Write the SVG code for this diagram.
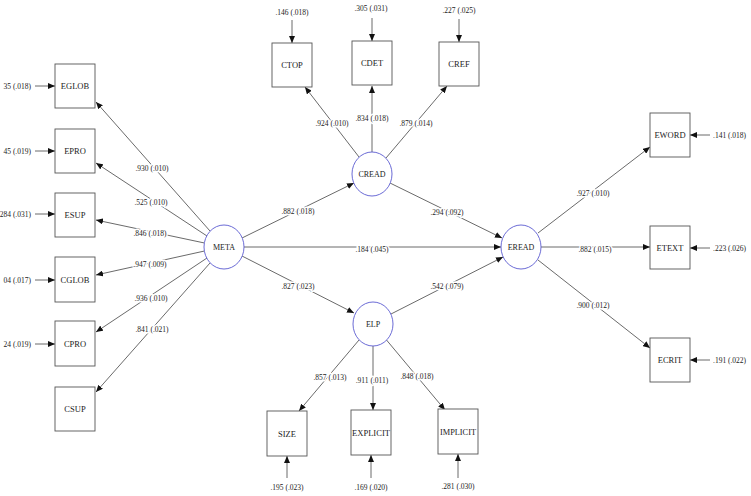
<svg xmlns="http://www.w3.org/2000/svg" width="751" height="496" viewBox="0 0 751 496">
<style>
.box{fill:#fff;stroke:#555;stroke-width:0.9}
.lat{fill:#fff;stroke:#5a5ad0;stroke-width:0.9}
.nt{font-family:"Liberation Serif",serif;font-size:8.5px;fill:#222;text-anchor:middle}
.lt{font-family:"Liberation Serif",serif;font-size:8px;fill:#222;text-anchor:middle}
.e{stroke:#444;stroke-width:0.8;fill:none;marker-end:url(#ah)}
.lbl{font-family:"Liberation Serif",serif;font-size:7.5px;fill:#222;text-anchor:middle;paint-order:stroke;stroke:#fff;stroke-width:3px;stroke-linejoin:round}
.err{font-family:"Liberation Serif",serif;font-size:7.5px;fill:#222}
</style>
<defs>
<marker id="ah" markerUnits="userSpaceOnUse" markerWidth="8" markerHeight="6" refX="7" refY="3" orient="auto">
<path d="M0,0 L7,3 L0,6 z" fill="#111"/>
</marker>
</defs>
<rect width="751" height="496" fill="#fff"/>
<g id="connectors">
<line class="e" x1="210" y1="231" x2="96" y2="102"/>
<line class="e" x1="207" y1="236" x2="96" y2="163"/>
<line class="e" x1="204.5" y1="243" x2="96" y2="220"/>
<line class="e" x1="204.5" y1="251" x2="96" y2="275"/>
<line class="e" x1="207" y1="258" x2="96" y2="332"/>
<line class="e" x1="210" y1="263" x2="96" y2="392"/>
<line class="e" x1="359" y1="157" x2="305" y2="87"/>
<line class="e" x1="372" y1="152" x2="372" y2="86"/>
<line class="e" x1="386" y1="158" x2="447" y2="86"/>
<line class="e" x1="242" y1="238" x2="354" y2="183"/>
<line class="e" x1="390" y1="183" x2="502" y2="238"/>
<line class="e" x1="244" y1="247" x2="501" y2="247"/>
<line class="e" x1="242" y1="256" x2="354" y2="313"/>
<line class="e" x1="391" y1="314" x2="503" y2="257"/>
<line class="e" x1="538" y1="233" x2="650" y2="147"/>
<line class="e" x1="541" y1="247" x2="650" y2="247"/>
<line class="e" x1="538" y1="260" x2="650" y2="348"/>
<line class="e" x1="359" y1="340" x2="299" y2="411"/>
<line class="e" x1="373" y1="346" x2="373" y2="410"/>
<line class="e" x1="386.5" y1="340" x2="445" y2="410"/>
<line class="e" x1="35" y1="86" x2="55" y2="86"/>
<line class="e" x1="35" y1="151" x2="55" y2="151"/>
<line class="e" x1="35" y1="214" x2="55" y2="214"/>
<line class="e" x1="35" y1="280" x2="55" y2="280"/>
<line class="e" x1="35" y1="344" x2="55" y2="344"/>
<line class="e" x1="292" y1="20" x2="292" y2="43"/>
<line class="e" x1="372" y1="18" x2="372" y2="41"/>
<line class="e" x1="459" y1="19" x2="459" y2="42"/>
<line class="e" x1="710" y1="135" x2="690" y2="135"/>
<line class="e" x1="710" y1="248" x2="690" y2="248"/>
<line class="e" x1="710" y1="360" x2="690" y2="360"/>
<line class="e" x1="287" y1="478" x2="287" y2="456"/>
<line class="e" x1="371" y1="478" x2="371" y2="455"/>
<line class="e" x1="458" y1="478" x2="458" y2="454"/>
</g>
<g id="edge-labels">
<text class="lbl" x="152" y="170.5">.930 (.010)</text>
<text class="lbl" x="151" y="204.5">.525 (.010)</text>
<text class="lbl" x="150" y="235.5">.846 (.018)</text>
<text class="lbl" x="150" y="266.5">.947 (.009)</text>
<text class="lbl" x="151" y="300.5">.936 (.010)</text>
<text class="lbl" x="152" y="331.5">.841 (.021)</text>
<text class="lbl" x="332" y="125.5">.924 (.010)</text>
<text class="lbl" x="372" y="120.5">.834 (.018)</text>
<text class="lbl" x="416" y="125.5">.879 (.014)</text>
<text class="lbl" x="298" y="213.5">.882 (.018)</text>
<text class="lbl" x="447" y="214.5">.294 (.092)</text>
<text class="lbl" x="372" y="251.5">.184 (.045)</text>
<text class="lbl" x="298" y="288.5">.827 (.023)</text>
<text class="lbl" x="447" y="288.5">.542 (.079)</text>
<text class="lbl" x="593" y="195.5">.927 (.010)</text>
<text class="lbl" x="595" y="251.5">.882 (.015)</text>
<text class="lbl" x="593" y="307.5">.900 (.012)</text>
<text class="lbl" x="330" y="379.5">.857 (.013)</text>
<text class="lbl" x="372" y="382.5">.911 (.011)</text>
<text class="lbl" x="417" y="378.5">.848 (.018)</text>
</g>
<g id="error-labels">
<text class="err" x="31" y="88.5" text-anchor="end">35 (.018)</text>
<text class="err" x="31" y="153.5" text-anchor="end">45 (.019)</text>
<text class="err" x="31" y="216.5" text-anchor="end">284 (.031)</text>
<text class="err" x="31" y="282.5" text-anchor="end">04 (.017)</text>
<text class="err" x="31" y="346.5" text-anchor="end">24 (.019)</text>
<text class="err" x="292" y="14.5" text-anchor="middle">.146 (.018)</text>
<text class="err" x="371" y="10.5" text-anchor="middle">.305 (.031)</text>
<text class="err" x="459" y="12.5" text-anchor="middle">.227 (.025)</text>
<text class="err" x="713" y="137.5">.141 (.018)</text>
<text class="err" x="713" y="250.5">.223 (.026)</text>
<text class="err" x="713" y="362.5">.191 (.022)</text>
<text class="err" x="287" y="489.5" text-anchor="middle">.195 (.023)</text>
<text class="err" x="371" y="489.5" text-anchor="middle">.169 (.020)</text>
<text class="err" x="458" y="488.5" text-anchor="middle">.281 (.030)</text>
</g>
<g id="EGLOB"><rect class="box" x="55" y="64" width="40" height="44"/><text class="nt" x="75" y="89">EGLOB</text></g>
<g id="EPRO"><rect class="box" x="55" y="129" width="40" height="44"/><text class="nt" x="75" y="154">EPRO</text></g>
<g id="ESUP"><rect class="box" x="55" y="193" width="40" height="44"/><text class="nt" x="75" y="218">ESUP</text></g>
<g id="CGLOB"><rect class="box" x="55" y="257" width="40" height="45"/><text class="nt" x="75" y="283">CGLOB</text></g>
<g id="CPRO"><rect class="box" x="55" y="321" width="40" height="45"/><text class="nt" x="75" y="347">CPRO</text></g>
<g id="CSUP"><rect class="box" x="55" y="387" width="40" height="44"/><text class="nt" x="75" y="412">CSUP</text></g>
<g id="CTOP"><rect class="box" x="272" y="43" width="40" height="44"/><text class="nt" x="292" y="68">CTOP</text></g>
<g id="CDET"><rect class="box" x="352" y="41" width="40" height="44"/><text class="nt" x="372" y="66">CDET</text></g>
<g id="CREF"><rect class="box" x="439" y="42" width="40" height="44"/><text class="nt" x="459" y="67">CREF</text></g>
<g id="EWORD"><rect class="box" x="650" y="113" width="40" height="44"/><text class="nt" x="670" y="138">EWORD</text></g>
<g id="ETEXT"><rect class="box" x="650" y="226" width="40" height="43"/><text class="nt" x="670" y="251">ETEXT</text></g>
<g id="ECRIT"><rect class="box" x="650" y="338" width="40" height="44"/><text class="nt" x="670" y="363">ECRIT</text></g>
<g id="SIZE"><rect class="box" x="267" y="411" width="40" height="45"/><text class="nt" x="287" y="437">SIZE</text></g>
<g id="EXPLICIT"><rect class="box" x="351" y="410" width="40" height="45"/><text class="nt" x="371" y="436" textLength="38" lengthAdjust="spacingAndGlyphs">EXPLICIT</text></g>
<g id="IMPLICIT"><rect class="box" x="438" y="409" width="40" height="45"/><text class="nt" x="458" y="435" textLength="36" lengthAdjust="spacingAndGlyphs">IMPLICIT</text></g>
<g id="META"><ellipse class="lat" cx="224" cy="247" rx="20" ry="22"/><text class="lt" x="224" y="250">META</text></g>
<g id="CREAD"><ellipse class="lat" cx="372" cy="174" rx="20" ry="22"/><text class="lt" x="372" y="177">CREAD</text></g>
<g id="EREAD"><ellipse class="lat" cx="521" cy="247" rx="20" ry="22"/><text class="lt" x="521" y="250">EREAD</text></g>
<g id="ELP"><ellipse class="lat" cx="373" cy="324" rx="20" ry="22"/><text class="lt" x="373" y="327">ELP</text></g>
</svg>
